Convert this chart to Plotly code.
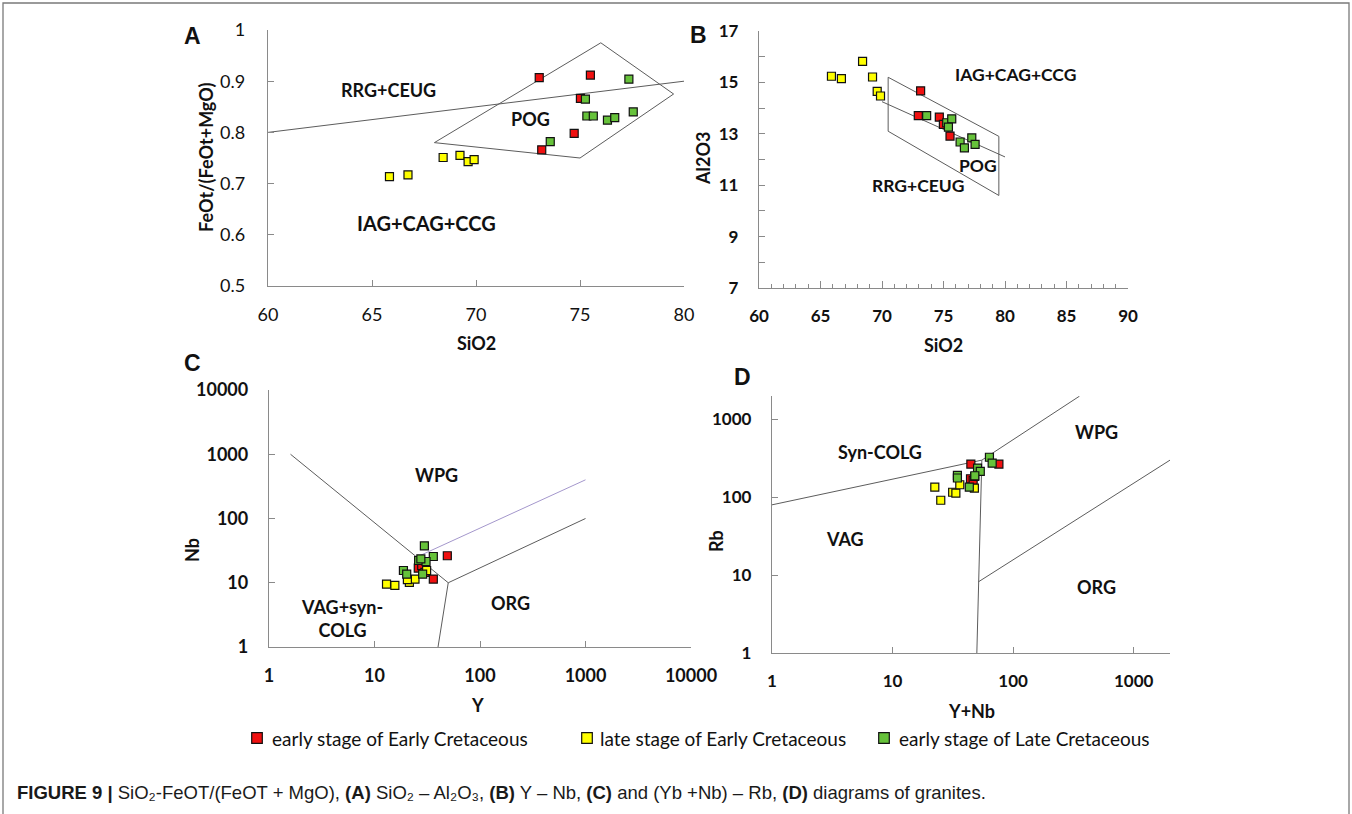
import numpy as np
import plotly.graph_objects as go

W, H = 1352, 814

# ---------------- data ----------------
# Panel A : SiO2 vs FeOt/(FeOt+MgO)
A_red_x = [73.04, 75.50, 75.02, 74.72, 73.16]
A_red_y = [0.907, 0.912, 0.8665, 0.798, 0.766]
A_yel_x = [65.84, 66.73, 68.42, 69.23, 69.62, 69.91]
A_yel_y = [0.7135, 0.717, 0.751, 0.755, 0.743, 0.747]
A_grn_x = [77.35, 75.26, 75.33, 75.64, 76.32, 76.67, 77.56, 73.57]
A_grn_y = [0.904, 0.865, 0.832, 0.832, 0.824, 0.829, 0.840, 0.782]
A_line_x = [60, 80]
A_line_y = [0.80, 0.90]
A_poly_x = [68.0, 76.0, 79.5, 75.0, 68.0]
A_poly_y = [0.780, 0.975, 0.875, 0.750, 0.780]
A_yticks = [0.5, 0.6, 0.7, 0.8, 0.9, 1.0]
A_yticktext = ["0.5", "0.6", "0.7", "0.8", "0.9", "1"]
A_lab_text = ["RRG+CEUG", "POG", "IAG+CAG+CCG"]
A_lab_x = [65.8, 72.6, 67.6]
A_lab_y = [0.883, 0.826, 0.624]
A_lab_size = [18, 18, 20]

# Panel B : SiO2 vs Al2O3
B_red_x = [73.14, 72.95, 74.66, 74.99, 75.53]
B_red_y = [14.67, 13.71, 13.65, 13.37, 12.91]
B_yel_x = [65.89, 66.70, 68.42, 69.23, 69.61, 69.88]
B_yel_y = [15.24, 15.15, 15.82, 15.21, 14.65, 14.47]
B_grn_x = [73.63, 75.26, 75.67, 75.40, 76.35, 76.70, 77.30, 77.57]
B_grn_y = [13.71, 13.43, 13.58, 13.26, 12.68, 12.45, 12.84, 12.59]
B_box_x = [70.5, 79.5, 79.5, 70.5, 70.5]
B_box_y = [15.2, 12.9, 10.6, 13.1, 15.2]
B_mid_x = [70.0, 80.0]
B_mid_y = [14.25, 12.1]
B_lab_text = ["IAG+CAG+CCG", "POG", "RRG+CEUG"]
B_lab_x = [80.83, 77.8, 72.95]
B_lab_y = [15.31, 11.77, 10.97]

# Panel C : Y vs Nb (log-log)
C_red_x = [49.0, 26.0, 36.1, 28.0, 30.0]
C_red_y = [26.3, 16.9, 11.4, 18.5, 14.5]
C_yel_x = [13.0, 15.6, 21.4, 24.2, 31.2, 20.5]
C_yel_y = [9.55, 9.1, 10.1, 11.4, 15.5, 11.2]
C_grn_x = [29.7, 36.1, 26.2, 30.8, 18.8, 20.2, 28.6, 27.5]
C_grn_y = [37.6, 25.6, 22.2, 21.4, 15.5, 13.6, 13.6, 23.5]
C_l1_x = [1.6, 50]
C_l1_y = [1000, 10]
C_l2_x = [50, 1000]
C_l2_y = [10, 100]
C_l3_x = [50, 40]
C_l3_y = [10, 1]
C_l4_x = [25, 1000]
C_l4_y = [25, 400]
C_lab_text = ["WPG", "ORG", "VAG+syn-<br>COLG"]
C_lab_x = [39, 194, 4.9]
C_lab_y = [480, 4.9, 2.82]

# Panel D : Y+Nb vs Rb (log-log)
D_red_x = [44.6, 76.2, 44.3, 46.6, 48.0]
D_red_y = [267, 267, 173, 165, 185]
D_yel_x = [22.4, 25.1, 31.5, 33.5, 36.1, 47.7]
D_yel_y = [135, 91.6, 116, 113, 145, 131]
D_grn_x = [63.6, 67.0, 50.7, 53.4, 48.1, 34.5, 34.5, 43.3]
D_grn_y = [327, 274, 237, 215, 189, 191, 177, 135]
D_l1_x = [1, 55]
D_l1_y = [80, 300]
D_l2_x = [55, 355]
D_l2_y = [300, 1990]
D_l3_x = [55, 51.5, 50]
D_l3_y = [300, 8.2, 1]
D_l4_x = [51.5, 2000]
D_l4_y = [8.2, 300]
D_lab_text = ["Syn-COLG", "WPG", "VAG", "ORG"]
D_lab_x = [7.8, 495, 4.0, 495]
D_lab_y = [386, 682, 29, 7.0]

log_ticks = [1, 10, 100, 1000, 10000]
log_ticktext = ["1", "10", "100", "1000", "10000"]

series_names = ["early stage of Early Cretaceous",
                "late stage of Early Cretaceous",
                "early stage of Late Cretaceous"]
series_colors = ["#f01010", "#ffff00", "#66c23a"]

# ---------------- helpers ----------------
def px(x):
    return x / W

def py(y):
    return 1 - y / H

FONT = "Lato"
AXC = "#8a8a8a"
LINEC = "#5c5c5c"

fig = go.Figure()

def add_points(xs, ys, color, xa, ya):
    fig.add_trace(go.Scatter(
        x=xs, y=ys, mode="markers", xaxis=xa, yaxis=ya, showlegend=False,
        marker=dict(symbol="square", size=8, color=color,
                    line=dict(color="#111111", width=1.2)),
        hoverinfo="skip"))

def add_line(xs, ys, xa, ya, color=LINEC, width=1):
    fig.add_trace(go.Scatter(
        x=xs, y=ys, mode="lines", xaxis=xa, yaxis=ya, showlegend=False,
        line=dict(color=color, width=width), hoverinfo="skip"))

# Panel A
add_line(A_line_x, A_line_y, "x", "y")
add_line(A_poly_x, A_poly_y, "x", "y")
add_points(A_red_x, A_red_y, series_colors[0], "x", "y")
add_points(A_yel_x, A_yel_y, series_colors[1], "x", "y")
add_points(A_grn_x, A_grn_y, series_colors[2], "x", "y")
# Panel B
add_line(B_box_x, B_box_y, "x2", "y2")
add_line(B_mid_x, B_mid_y, "x2", "y2")
add_points(B_red_x, B_red_y, series_colors[0], "x2", "y2")
add_points(B_yel_x, B_yel_y, series_colors[1], "x2", "y2")
add_points(B_grn_x, B_grn_y, series_colors[2], "x2", "y2")
# Panel C
add_line(C_l1_x, C_l1_y, "x3", "y3")
add_line(C_l2_x, C_l2_y, "x3", "y3")
add_line(C_l3_x, C_l3_y, "x3", "y3")
add_line(C_l4_x, C_l4_y, "x3", "y3", color="#a497cc")
add_points(C_red_x, C_red_y, series_colors[0], "x3", "y3")
add_points(C_yel_x, C_yel_y, series_colors[1], "x3", "y3")
add_points(C_grn_x, C_grn_y, series_colors[2], "x3", "y3")
# Panel D
add_line(D_l1_x, D_l1_y, "x4", "y4")
add_line(D_l2_x, D_l2_y, "x4", "y4")
add_line(D_l3_x, D_l3_y, "x4", "y4")
add_line(D_l4_x, D_l4_y, "x4", "y4")
add_points(D_red_x, D_red_y, series_colors[0], "x4", "y4")
add_points(D_yel_x, D_yel_y, series_colors[1], "x4", "y4")
add_points(D_grn_x, D_grn_y, series_colors[2], "x4", "y4")

def axis_style(bold, size, **kw):
    d = dict(showline=True, linecolor=AXC, linewidth=1.3, ticks="inside",
             ticklen=6, tickcolor=AXC, tickwidth=1.2, showgrid=False,
             zeroline=False, mirror=False, automargin=False,
             tickfont=dict(family=FONT, size=size, color="#111111",
                           weight="bold" if bold else "normal"))
    d.update(kw)
    return d

layout_axes = dict(
    xaxis=axis_style(False, 18, domain=[px(268), px(684)], range=[60, 80],
                     tick0=60, dtick=5, anchor="y", ticklabelstandoff=12),
    yaxis=axis_style(False, 18, domain=[py(286), py(30)], range=[0.5, 1.0],
                     tickvals=A_yticks, ticktext=A_yticktext, anchor="x",
                     ticklabelstandoff=18),
    xaxis2=axis_style(True, 17, domain=[px(759), px(1128)], range=[60, 90],
                      tick0=60, dtick=5, anchor="y2", ticklabelstandoff=12,
                      ticklen=7,
                      minor=dict(dtick=1, ticks="inside", ticklen=4,
                                 tickcolor=AXC, tickwidth=1)),
    yaxis2=axis_style(True, 17, domain=[py(288), py(31)], range=[7, 17],
                      tick0=7, dtick=2, anchor="x2", ticklabelstandoff=16,
                      minor=dict(dtick=1, ticks="inside", ticklen=6,
                                 tickcolor=AXC, tickwidth=1)),
    xaxis3=axis_style(True, 18, domain=[px(269), px(691)], type="log",
                      range=[0, 4], tickvals=log_ticks, ticktext=log_ticktext,
                      anchor="y3", ticklabelstandoff=12),
    yaxis3=axis_style(True, 18, domain=[py(647), py(390)], type="log",
                      range=[0, 4], tickvals=log_ticks, ticktext=log_ticktext,
                      anchor="x3", ticklabelstandoff=16),
    xaxis4=axis_style(True, 17, domain=[px(772), px(1170)], type="log",
                      range=[0, np.log10(2000)], tickvals=log_ticks[:4],
                      ticktext=log_ticktext[:4], anchor="y4",
                      ticklabelstandoff=12),
    yaxis4=axis_style(True, 17, domain=[py(653), py(396)], type="log",
                      range=[0, np.log10(2000)], tickvals=log_ticks[:4],
                      ticktext=log_ticktext[:4], anchor="x4",
                      ticklabelstandoff=16),
)

annotations = []

def data_label(text, x, y, xref, yref, size=18, log=False):
    xx = np.log10(x) if log else x
    yy = np.log10(y) if log else y
    annotations.append(dict(text=text, x=xx, y=yy, xref=xref, yref=yref,
                            showarrow=False,
                            font=dict(family=FONT, size=size, color="#111111",
                                      weight="bold")))

for t, x, y, s in zip(A_lab_text, A_lab_x, A_lab_y, A_lab_size):
    data_label(t, x, y, "x", "y", s)
for t, x, y in zip(B_lab_text, B_lab_x, B_lab_y):
    data_label(t, x, y, "x2", "y2", 17.5)
for t, x, y in zip(C_lab_text, C_lab_x, C_lab_y):
    data_label(t, x, y, "x3", "y3", 18, log=True)
for t, x, y in zip(D_lab_text, D_lab_x, D_lab_y):
    data_label(t, x, y, "x4", "y4", 18, log=True)

def paper_text(text, x, y, size, angle=0, bold=True, family=FONT,
               xanchor="center", color="#111111"):
    annotations.append(dict(text=text, x=px(x), y=py(y), xref="paper",
                            yref="paper", showarrow=False, textangle=angle,
                            xanchor=xanchor, yanchor="middle",
                            font=dict(family=family, size=size, color=color,
                                      weight="bold" if bold else "normal")))

# axis titles
paper_text("SiO2", 476, 343, 18)
paper_text("FeOt/(FeOt+MgO)", 206, 158, 18, angle=-90)
paper_text("SiO2", 943, 345, 18)
paper_text("Al2O3", 703, 159, 18, angle=-90)
paper_text("Y", 478, 705, 18)
paper_text("Nb", 192, 550, 18, angle=-90)
paper_text("Y+Nb", 971, 711, 18)
paper_text("Rb", 716, 541, 18, angle=-90)
# panel letters
for letter, lx, ly in [("A", 192, 36), ("B", 699, 35), ("C", 192, 363),
                       ("D", 742, 377)]:
    paper_text(letter, lx, ly, 23, family="Liberation Sans")

# legend
legend_sq_x = [257, 587, 884]
legend_tx_x = [270, 598, 897]
shapes = []
for sx, tx, name, col in zip(legend_sq_x, legend_tx_x, series_names,
                             series_colors):
    shapes.append(dict(type="rect", xref="paper", yref="paper",
                       x0=px(sx - 5.3), x1=px(sx + 5.3),
                       y0=py(738 + 5.3), y1=py(738 - 5.3),
                       fillcolor=col, line=dict(color="#111111", width=1.2)))
    paper_text(name, tx, 738, 19, bold=False, xanchor="left")

# caption (unicode subscripts)
caption = ("<b>FIGURE 9 |</b> SiO\u2082-FeOT/(FeOT + MgO), <b>(A)</b> "
           "SiO\u2082 \u2013 Al\u2082O\u2083, <b>(B)</b> Y \u2013 Nb, "
           "<b>(C)</b> and (Yb +Nb) \u2013 Rb, <b>(D)</b> diagrams of granites.")
annotations.append(dict(text=caption, x=px(15), y=py(792), xref="paper",
                        yref="paper", showarrow=False, xanchor="left",
                        yanchor="middle",
                        font=dict(family="Liberation Sans", size=18.5,
                                  color="#1a1a1a")))

# outer frame
shapes.append(dict(type="rect", xref="paper", yref="paper",
                   x0=px(3), x1=px(1349), y0=-0.05, y1=py(3),
                   line=dict(color="#7a7a7a", width=1.3),
                   fillcolor="rgba(0,0,0,0)", layer="below"))

fig.update_layout(template="none", width=W, height=H,
                  margin=dict(l=0, r=0, t=0, b=0, pad=0, autoexpand=False),
                  paper_bgcolor="white", plot_bgcolor="white",
                  showlegend=False, annotations=annotations, shapes=shapes,
                  font=dict(family=FONT), **layout_axes)

fig.write_html("out.html", config={"displayModeBar": False},
               post_script="document.body.style.margin='0px';"
                           "document.body.style.overflow='hidden';")
